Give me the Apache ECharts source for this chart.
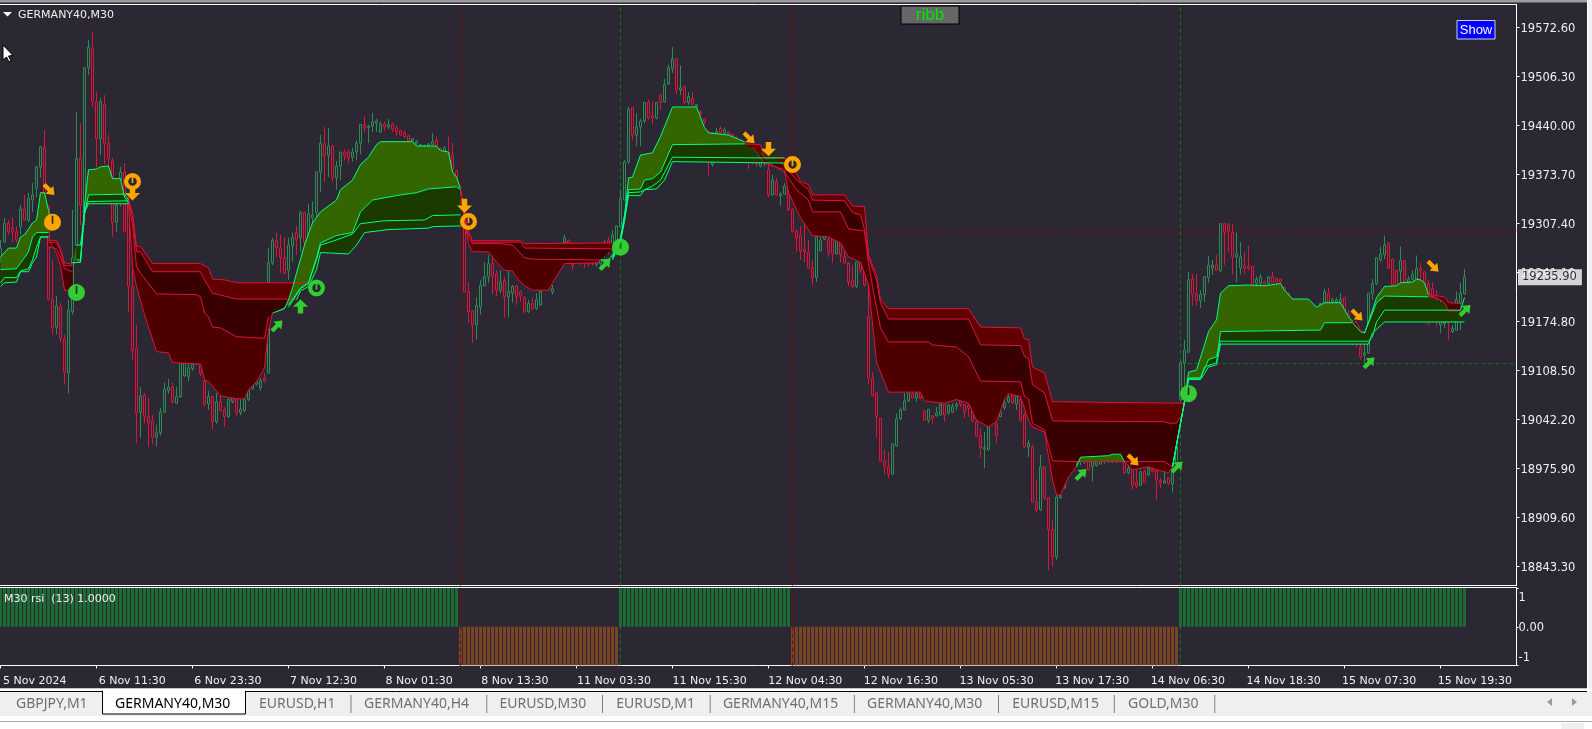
<!DOCTYPE html>
<html><head><meta charset="utf-8">
<style>html,body{margin:0;padding:0;background:#2b2733;overflow:hidden}#c{width:1592px;height:729px}</style>
<script src="https://cdn.jsdelivr.net/npm/echarts@6/dist/echarts.min.js"></script>
</head><body><div id="c"></div>
<script>
const timeLabels=['5 Nov 2024','6 Nov 11:30','6 Nov 23:30','7 Nov 12:30','8 Nov 01:30','8 Nov 13:30','11 Nov 03:30','11 Nov 15:30','12 Nov 04:30','12 Nov 16:30','13 Nov 05:30','13 Nov 17:30','14 Nov 06:30','14 Nov 18:30','15 Nov 07:30','15 Nov 19:30'];
const priceTicks=[18843.30,18909.60,18975.90,19042.20,19108.50,19174.80,19241.10,19307.40,19373.70,19440.00,19506.30,19572.60];
const lastPrice=19235.90;
const tabNames=['GBPJPY,M1','GERMANY40,M30','EURUSD,H1','GERMANY40,H4','EURUSD,M30','EURUSD,M1','GERMANY40,M15','GERMANY40,M30','EURUSD,M15','GOLD,M30'];
// open, close, low, high for each 30 minute bar
const candles=[
[19261,19274,19255,19285],[19282,19307,19281,19315],[19308,19296,19292,19312],[19301,19296,19282,19315],[19296,19285,19281,19303],[19303,19327,19292,19332],[19327,19312,19311,19346],[19312,19341,19309,19349],[19339,19346,19323,19362],[19355,19384,19343,19385],
[19384,19411,19369,19412],[19410,19349,19343,19433],[19331,19205,19203,19332],[19204,19166,19157,19259],[19167,19196,19157,19209],[19194,19152,19147,19200],[19151,19106,19089,19157],[19105,19190,19077,19204],[19188,19261,19184,19326],[19278,19395,19272,19458],
[19396,19332,19305,19443],[19322,19518,19305,19519],[19518,19546,19508,19556],[19544,19472,19465,19567],[19472,19422,19383,19485],[19422,19472,19400,19477],[19468,19416,19387,19481],[19416,19395,19380,19427],[19392,19308,19289,19396],[19309,19332,19296,19366],
[19366,19377,19330,19384],[19377,19297,19295,19389],[19335,19222,19188,19343],[19222,19135,19123,19244],[19138,19051,19010,19170],[19052,19074,19017,19086],[19075,19046,19037,19078],[19046,19037,19005,19071],[19040,19018,19008,19048],[19018,19024,19005,19035],
[19024,19052,19020,19058],[19052,19083,19051,19092],[19081,19086,19077,19097],[19086,19066,19064,19092],[19064,19073,19063,19086],[19073,19119,19071,19120],[19101,19119,19100,19120],[19100,19112,19094,19119],[19111,19117,19108,19119],[19117,19118,19116,19120],
[19117,19104,19101,19119],[19094,19063,19059,19096],[19063,19073,19055,19081],[19073,19039,19029,19074],[19039,19066,19036,19078],[19066,19054,19053,19078],[19055,19046,19032,19059],[19046,19069,19044,19070],[19066,19073,19064,19074],[19069,19051,19047,19070],
[19051,19056,19048,19069],[19054,19069,19052,19070],[19069,19082,19067,19083],[19084,19088,19082,19090],[19090,19094,19088,19098],[19085,19094,19081,19098],[19098,19094,19092,19105],[19105,19254,19104,19274],[19254,19284,19251,19288],[19284,19274,19262,19295],
[19274,19261,19240,19292],[19261,19240,19239,19288],[19244,19278,19231,19288],[19277,19288,19255,19295],[19295,19285,19265,19304],[19288,19322,19269,19324],[19322,19282,19261,19323],[19282,19320,19281,19334],[19315,19319,19299,19337],[19322,19377,19312,19378],
[19377,19416,19350,19427],[19415,19399,19364,19438],[19400,19412,19370,19437],[19412,19369,19364,19413],[19369,19385,19353,19392],[19385,19404,19366,19404],[19404,19399,19393,19408],[19404,19396,19389,19407],[19397,19404,19391,19410],[19404,19416,19393,19420],
[19416,19441,19401,19442],[19441,19437,19430,19452],[19437,19439,19416,19441],[19439,19445,19431,19457],[19443,19446,19431,19449],[19431,19442,19430,19445],[19442,19438,19433,19445],[19438,19441,19435,19449],[19441,19435,19431,19444],[19437,19431,19426,19440],
[19433,19427,19426,19434],[19430,19425,19423,19433],[19426,19419,19418,19427],[19419,19422,19418,19423],[19415,19418,19414,19420],[19412,19414,19411,19415],[19411,19413,19410,19414],[19412,19415,19411,19416],[19414,19418,19414,19430],[19420,19412,19410,19425],
[19409,19406,19404,19410],[19405,19410,19404,19412],[19404,19393,19387,19425],[19400,19380,19373,19416],[19378,19369,19366,19380],[19350,19339,19332,19355],[19319,19215,19214,19332],[19215,19188,19173,19228],[19189,19170,19146,19190],[19170,19196,19150,19207],
[19194,19224,19184,19231],[19223,19235,19222,19255],[19235,19253,19227,19265],[19253,19236,19211,19261],[19239,19217,19209,19244],[19217,19228,19213,19244],[19230,19208,19180,19235],[19208,19215,19180,19244],[19213,19222,19200,19224],[19223,19208,19197,19224],
[19215,19209,19201,19217],[19207,19188,19186,19209],[19188,19199,19186,19204],[19199,19192,19190,19207],[19192,19204,19190,19213],[19197,19216,19196,19217],[19218,19222,19217,19224],[19219,19222,19217,19224],[19215,19219,19211,19224],[19238,19242,19235,19244],
[19246,19250,19244,19255],[19281,19288,19278,19292],[19284,19280,19278,19286],[19256,19250,19244,19258],[19258,19262,19255,19265],[19258,19255,19251,19261],[19258,19255,19247,19261],[19258,19254,19249,19261],[19256,19253,19250,19258],[19252,19255,19249,19258],
[19253,19258,19250,19262],[19276,19281,19262,19285],[19285,19277,19265,19289],[19272,19292,19269,19299],[19272,19304,19269,19305],[19303,19341,19301,19353],[19339,19391,19338,19393],[19391,19462,19388,19465],[19464,19427,19420,19465],[19427,19438,19412,19456],
[19438,19446,19412,19449],[19446,19471,19443,19472],[19471,19450,19448,19475],[19453,19450,19441,19472],[19450,19471,19448,19472],[19481,19471,19461,19483],[19472,19495,19471,19503],[19496,19518,19495,19522],[19517,19530,19511,19546],[19530,19488,19483,19531],
[19488,19491,19481,19521],[19493,19471,19468,19494],[19471,19479,19468,19485],[19477,19468,19467,19485],[19466,19468,19465,19469],[19458,19456,19454,19460],[19449,19445,19441,19450],[19430,19422,19372,19434],[19387,19393,19384,19431],[19429,19432,19428,19437],
[19436,19430,19428,19439],[19430,19434,19428,19437],[19431,19428,19426,19432],[19428,19425,19423,19429],[19424,19421,19419,19425],[19420,19418,19416,19421],[19417,19415,19413,19418],[19400,19390,19381,19410],[19395,19391,19388,19405],[19395,19388,19384,19400],
[19385,19392,19383,19400],[19390,19392,19385,19396],[19380,19346,19343,19387],[19346,19366,19345,19373],[19364,19346,19345,19369],[19345,19347,19331,19350],[19347,19358,19346,19362],[19357,19326,19324,19360],[19326,19297,19295,19328],[19297,19288,19269,19299],
[19291,19270,19258,19303],[19272,19269,19255,19309],[19268,19247,19246,19285],[19247,19234,19224,19258],[19234,19289,19228,19291],[19270,19284,19270,19289],[19286,19291,19285,19296],[19285,19268,19262,19291],[19287,19266,19254,19288],[19266,19286,19265,19288],
[19281,19265,19254,19281],[19263,19254,19253,19272],[19254,19228,19222,19255],[19231,19222,19219,19251],[19222,19255,19220,19255],[19255,19244,19240,19255],[19247,19224,19222,19249],[19181,19098,19089,19272],[19098,19075,19073,19106],[19078,19046,19018,19078],
[19044,18986,18985,19044],[18986,18978,18968,19001],[18978,18968,18962,18998],[18968,19009,18967,19009],[19006,19043,19005,19050],[19043,19055,19041,19058],[19055,19067,19054,19078],[19067,19078,19066,19078],[19076,19071,19071,19079],[19071,19078,19066,19079],
[19078,19071,19070,19079],[19054,19041,19040,19054],[19041,19056,19037,19056],[19047,19044,19035,19048],[19047,19051,19046,19059],[19048,19063,19047,19063],[19062,19048,19039,19062],[19051,19062,19048,19063],[19052,19060,19051,19064],[19060,19062,19055,19066],
[19068,19062,19059,19069],[19062,19052,19044,19062],[19061,19057,19046,19062],[19055,19040,19039,19055],[19039,19020,19018,19040],[19020,19004,18990,19031],[19002,19004,18976,19025],[19001,19032,19000,19033],[19040,19045,19038,19048],[19035,19020,19010,19039],
[19046,19052,19045,19056],[19058,19064,19055,19069],[19066,19072,19064,19075],[19075,19064,19063,19075],[19063,19074,19055,19075],[19069,19041,19039,19070],[19048,19005,19004,19052],[19005,19010,18991,19014],[19005,18930,18929,19008],[18930,18920,18916,18960],
[18920,18978,18918,18994],[18978,18936,18933,18978],[18936,18893,18838,18936],[18893,18856,18843,18906],[18856,18937,18852,18940],[18936,18939,18935,18940],[18950,18955,18948,18965],[18975,18985,18965,18995],[18985,18990,18972,19000],[18985,18992,18979,18998],
[18985,18990,18980,18995],[18987,18992,18982,18996],[18985,18974,18973,18987],[18978,18985,18958,18986],[18980,18985,18978,18987],[18982,18985,18981,18987],[18985,18988,18982,18990],[18986,18988,18983,18990],[18987,18985,18983,18990],[18985,18988,18983,18990],
[18986,18989,18984,18991],[18985,18970,18968,18986],[18970,18976,18968,18982],[18974,18953,18947,18975],[18957,18952,18949,18974],[18953,18971,18952,18973],[18972,18957,18957,18974],[18967,18976,18966,18978],[18975,18972,18970,18980],[18973,18960,18933,18974],
[18959,18956,18949,18963],[18956,18959,18956,18973],[18963,18955,18953,18963],[18955,18974,18943,18974],[18983,19005,18974,19014],[19069,19119,19067,19121],[19119,19136,19069,19150],[19133,19231,19132,19242],[19232,19211,19196,19239],[19212,19203,19197,19239],
[19203,19211,19193,19217],[19211,19235,19201,19236],[19234,19251,19227,19263],[19247,19251,19238,19258],[19251,19244,19243,19265],[19243,19307,19242,19307],[19307,19295,19251,19308],[19305,19296,19269,19308],[19295,19262,19238,19307],[19262,19266,19228,19295],
[19247,19262,19238,19282],[19250,19247,19238,19269],[19249,19246,19244,19277],[19249,19224,19223,19249],[19226,19232,19224,19236],[19226,19235,19224,19239],[19228,19225,19223,19230],[19226,19235,19224,19236],[19235,19227,19226,19242],[19233,19228,19226,19234],
[19232,19228,19224,19232],[19221,19217,19216,19222],[19212,19208,19206,19214],[19205,19202,19200,19207],[19200,19204,19198,19206],[19203,19200,19198,19205],[19200,19203,19197,19205],[19202,19199,19196,19204],[19197,19193,19191,19199],[19193,19190,19188,19195],
[19195,19199,19194,19200],[19200,19215,19198,19219],[19213,19201,19200,19220],[19201,19204,19200,19207],[19201,19204,19200,19207],[19201,19205,19200,19213],[19207,19186,19185,19207],[19185,19180,19177,19190],[19170,19165,19142,19177],[19168,19160,19140,19175],
[19140,19127,19123,19157],[19129,19132,19119,19150],[19132,19213,19131,19213],[19213,19226,19204,19232],[19226,19261,19224,19261],[19258,19266,19255,19276],[19265,19278,19259,19291],[19281,19247,19246,19281],[19259,19224,19223,19259],[19244,19223,19222,19244],
[19243,19257,19227,19276],[19257,19228,19227,19257],[19228,19232,19227,19236],[19232,19238,19230,19244],[19232,19246,19231,19264],[19247,19243,19231,19254],[19242,19227,19226,19242],[19226,19180,19170,19231],[19219,19207,19204,19228],[19210,19180,19167,19217],
[19170,19195,19159,19204],[19172,19190,19166,19200],[19185,19175,19150,19190],[19161,19165,19159,19170],[19163,19204,19163,19215],[19200,19213,19163,19227],[19212,19235,19211,19246]
];
// ribbon lines as [bar, price] vertices; A is the fastest line, D the slowest
const g1A=[[0,19262],[2,19274],[4,19274],[5,19289],[6,19292],[8,19308],[9,19312],[10,19349],[11,19349],[12,19325],[13,19298]];
const g1B=[[0,19245],[4,19246],[5,19254],[6,19261],[7,19269],[8,19289],[9,19295],[12,19295]];
const g1C=[[0,19227],[1,19234],[4,19234],[5,19243],[7,19246],[8,19258],[9,19275],[10,19289],[12,19289]];
const g1D=[[0,19222],[1,19227],[4,19228],[5,19242],[7,19242],[8,19254],[9,19262],[10,19289],[12,19289]];
const r1A=[[12,19285],[13,19277],[14,19267],[15,19250],[16,19217],[18,19217]];
const r1B=[[12,19276],[14,19273],[15,19262],[16,19246],[18,19242]];
const r1C=[[12,19282],[14,19281],[15,19270],[16,19250],[18,19250]];
const r1D=[[12,19285],[14,19284],[15,19274],[16,19254],[18,19252]];
const g2A=[[18,19254],[20,19255],[21,19332],[22,19380],[24,19381],[25,19384],[27,19385],[28,19368],[30,19368],[31,19343],[32,19335]];
const g2B=[[19,19278],[20,19278],[21,19320],[22,19346],[31,19347],[32,19339]];
const g2C=[[19,19258],[20,19258],[21,19326],[22,19337],[32,19338]];
const g2D=[[18,19254],[20,19255],[21,19322],[22,19334],[32,19334]];
const r2A=[[32,19335],[33,19249],[34,19222],[36,19184],[39,19134],[42,19132],[43,19119],[50,19117],[51,19096],[52,19093],[55,19074],[59,19070],[61,19070],[62,19082],[64,19093],[66,19112],[67,19163],[68,19186]];
const r2B=[[32,19335],[33,19305],[34,19249],[35,19240],[39,19212],[49,19211],[50,19208],[51,19186],[52,19181],[53,19167],[55,19166],[59,19154],[66,19152],[67,19181]];
const r2C=[[32,19339],[33,19316],[34,19269],[35,19269],[38,19242],[50,19242],[51,19231],[53,19213],[56,19209],[59,19205],[74,19205]];
const r2D=[[32,19339],[33,19322],[34,19276],[35,19276],[38,19253],[50,19253],[52,19247],[53,19232],[56,19231],[59,19227],[77,19227]];
const g3A=[[68,19186],[71,19192],[72,19204],[73,19220],[74,19240],[76,19278],[78,19308],[80,19323],[84,19339],[85,19353],[88,19366],[90,19387],[92,19397],[94,19414],[95,19418],[103,19418],[104,19412],[109,19412],[110,19406],[112,19404],[113,19377],[114,19370],[115,19355]];
const g3B=[[72,19197],[75,19220],[77,19227],[79,19261],[80,19281],[84,19291],[88,19295],[90,19323],[93,19339],[100,19346],[104,19349],[107,19354],[114,19357],[115,19353]];
const g3C=[[72,19194],[75,19219],[77,19226],[79,19258],[80,19278],[84,19285],[88,19293],[90,19307],[96,19311],[106,19312],[108,19318],[115,19319]];
const g3D=[[74,19204],[75,19216],[77,19222],[79,19245],[80,19268],[87,19266],[89,19278],[91,19295],[97,19299],[107,19301],[108,19303],[115,19304]];
const r3A=[[115,19353],[116,19312],[117,19280],[118,19269],[122,19269],[124,19255],[126,19244],[128,19243],[129,19234],[131,19223],[133,19217],[137,19217],[138,19227],[141,19253],[149,19254],[150,19258]];
const r3B=[[115,19353],[116,19316],[117,19288],[118,19280],[125,19280],[128,19278],[131,19261],[133,19259],[150,19258]];
const r3C=[[115,19353],[116,19318],[117,19294],[118,19282],[130,19282],[131,19274],[153,19273]];
const r3D=[[115,19353],[116,19319],[117,19296],[118,19284],[130,19284],[131,19280],[153,19281]];
const g4A=[[150,19258],[152,19258],[153,19265],[154,19277],[155,19288],[156,19316],[157,19369],[158,19370],[160,19400],[163,19403],[165,19425],[168,19465],[174,19465],[176,19437],[177,19430],[182,19427],[186,19418]];
const g4B=[[153,19262],[155,19286],[156,19319],[157,19353],[160,19354],[161,19366],[163,19368],[165,19377],[168,19414],[186,19415]];
const g4C=[[153,19260],[155,19284],[156,19314],[157,19349],[160,19350],[163,19358],[165,19366],[168,19397],[191,19396],[196,19396]];
const g4D=[[153,19258],[155,19282],[156,19310],[157,19345],[160,19345],[161,19353],[164,19354],[166,19366],[168,19391],[197,19389]];
const r4A=[[188,19411],[191,19389],[196,19380],[197,19349],[200,19315],[203,19291],[207,19289],[210,19281],[212,19262],[215,19255],[217,19224],[219,19120],[222,19079],[230,19079],[231,19067],[236,19064],[239,19069],[242,19064],[244,19041],[247,19032],[249,19039],[251,19069],[252,19077],[255,19073],[257,19041],[258,19032],[261,19025],[263,18960],[264,18940],[265,18940],[267,18964],[269,18978]];
const r4B=[[192,19389],[196,19377],[199,19353],[202,19339],[203,19323],[210,19323],[212,19300],[216,19297],[217,19254],[218,19222],[220,19166],[222,19147],[232,19147],[233,19143],[239,19140],[242,19127],[245,19094],[255,19093],[256,19073],[257,19070],[258,19037],[261,19028],[263,18986],[269,18985],[281,18985],[291,18985],[293,18978]];
const r4C=[[195,19391],[199,19366],[202,19353],[203,19339],[211,19338],[213,19322],[215,19319],[216,19299],[217,19261],[219,19231],[220,19200],[222,19178],[242,19178],[245,19143],[255,19142],[256,19127],[257,19125],[258,19089],[261,19078],[263,19040],[291,19039],[292,19037],[294,19037],[295,19046]];
const r4D=[[186,19415],[190,19414],[191,19397],[196,19396],[197,19384],[199,19376],[200,19364],[202,19360],[203,19346],[211,19346],[213,19331],[216,19330],[217,19265],[219,19238],[220,19204],[222,19192],[242,19192],[245,19167],[255,19166],[256,19151],[257,19150],[258,19113],[261,19105],[263,19066],[296,19064]];
const g5A=[[269,18978],[270,18991],[277,18993],[278,18995],[280,18995],[281,18985]];
const r5A=[[281,18985],[283,18974],[287,18978],[289,18974],[292,18970],[293,18978]];
const g6A=[[293,18978],[295,19037],[296,19066],[297,19106],[299,19109],[301,19143],[302,19161],[304,19177],[305,19213],[307,19223],[312,19224],[316,19223],[320,19226],[321,19217],[323,19205],[327,19205],[329,19194],[331,19200],[335,19200],[337,19181],[338,19175]];
const g6B=[[293,18978],[295,19037],[296,19066],[297,19098],[300,19098],[301,19113],[304,19119],[305,19161],[317,19162],[330,19163],[331,19173],[338,19173],[340,19161],[341,19159],[343,19186],[344,19200],[346,19209],[357,19208]];
const g6C=[[293,18978],[295,19037],[296,19066],[297,19098],[300,19098],[302,19123],[304,19127],[305,19148],[342,19148],[343,19154],[344,19174],[346,19190],[365,19190]];
const g6D=[[293,18978],[295,19037],[296,19066],[297,19096],[300,19096],[302,19113],[304,19116],[305,19144],[342,19144],[343,19159],[346,19174],[366,19174]];
const r6A=[[338,19175],[339,19173],[340,19163],[341,19159]];
const g7A=[[341,19159],[342,19174],[344,19207],[346,19222],[349,19223],[350,19227],[353,19228],[354,19232],[355,19231],[356,19227],[357,19211]];
const r7Top=[[357,19211],[358,19210],[361,19208],[362,19200],[365,19199]];
const r7Low=[[357,19210],[359,19207],[361,19200],[362,19189],[365,19189]];
const g8A=[[365,19190],[366,19207]];
// rsi state runs: first bar, last bar, state
const rsiRuns=[[0,114,1],[115,154,-1],[155,197,1],[198,294,-1],[295,366,1]];
const rsiTicks=[-1,0,1];
// the indicator's outer labels sit inside its pane, slightly off their ticks
const rsiLabelSpots=[-0.78,0,0.77];
// signal marks as [bar, price]
const orangeDiag=[[12,19354],[187,19424],[283,18988],[339,19184],[358,19250]];
const orangeDown=[[33,19348],[116,19331],[192,19408]];
const orangeFull=[[13,19309]];
const orangeRing=[[33,19364],[117,19310],[198,19387]];
const greenFull=[[19,19214],[155,19275],[297,19077]];
const greenRing=[[79,19220]];
const greenUp=[[75,19195]];
const greenDiag=[[69,19168],[151,19251],[270,18967],[294,18977],[342,19118],[366,19189]];
const vLinesRed=[115,198];
const vLinesGreen=[155,295];
const hLineRed=[198,19298];
const hLineGreen=[295,19118];

const BG='#2b2733',UP='#00ff7f',DN='#dc143c';
const G1='#336600',G2='#1a3a00',R1='#4e0000',R2='#380000',R3='#600000';
const sl=(a,f,t)=>a.filter(p=>p[0]>=f&&p[0]<=t);
const fills=[
 {a:g1A,b:g1B,c:G1},{a:g1B,b:g1C,c:G2},{a:g1C,b:g1D,c:G2},
 {a:r1D,b:r1C,c:R3},{a:r1C,b:r1B,c:R2},{a:r1B,b:r1A,c:R1},
 {a:r2D,b:r2C,c:R3},{a:r2C,b:r2B,c:R2},{a:r2B,b:r2A,c:R1},
 {a:g2A,b:g2B,c:G1},{a:g2B,b:g2C,c:G2},{a:g2C,b:g2D,c:G2},
 {a:g3A,b:g3B,c:G1},{a:g3B,b:g3C,c:G2},{a:g3C,b:g3D,c:G2},
 {a:r3D,b:r3C,c:R3},{a:r3C,b:r3B,c:R2},{a:r3B,b:r3A,c:R1},
 {a:g4A,b:g4B,c:G1},{a:g4B,b:g4C,c:G2},{a:g4C,b:g4D,c:G2},
 {a:r4D,b:r4C,c:R3},{a:r4C,b:r4B,c:R2},{a:sl(r4B,192,269),b:r4A,c:R1},
 {a:g5A,b:sl(r4B,269,281),c:G1},{a:sl(r4B,281,293),b:r5A,c:R1},
 {a:g6A,b:sl(g6B,293,338),c:G1},{a:g6B,b:g6C,c:G2},{a:g6C,b:g6D,c:G2},
 {a:sl(g6B,338,341),b:r6A,c:R1},{a:g7A,b:sl(g6B,341,357),c:G1},
 {a:r7Top,b:r7Low,c:R1}
];
const upLines=[g1A,g1B,g1C,g1D,g2A,g2B,g2C,g2D,g3A,g3B,g3C,g3D,g4A,g4B,g4C,g4D,g5A,g6A,g6B,g6C,g6D,g7A,g8A];
const dnLines=[r1A,r1B,r1C,r1D,r2A,r2B,r2C,r2D,r3A,r3B,r3C,r3D,r4A,r4B,r4C,r4D,r5A,r6A,r7Top,r7Low];

const BARS=380;
const categories=Array.from({length:BARS},(_,k)=>k%24===0&&timeLabels[k/24]?timeLabels[k/24]:String(k));
const rsiValues=[];
rsiRuns.forEach(r=>{for(let k=r[0];k<=r[1];k++)rsiValues.push([k,r[2]]);});

const FONT='"DejaVu Sans"';
const P={
 diagDn:'path://M2 7 L7 2 L16 11 L20 7 L22 22 L7 20 L11 16 Z',
 diagUp:'path://M2 17 L7 22 L16 13 L20 17 L22 2 L7 4 L11 8 Z',
 down:'path://M8 2 H16 V12 H23 L12 23 L1 12 H8 Z',
 up:'path://M8 22 H16 V12 H23 L12 1 L1 12 H8 Z',
 full:'path://M12 0 A12 12 0 1 1 11.99 0 Z M10.8 3 V14 H13.2 V3 Z',
 ring:'path://M12 0 A12 12 0 1 1 11.99 0 Z M12 6 A6 6 0 1 0 12.01 6 Z M10.8 3 H13.2 V14 H10.8 Z'
};
const marks=(d,sym,size,col)=>({type:'scatter',data:d,symbol:sym,symbolSize:size,symbolKeepAspect:true,itemStyle:{color:col,opacity:1},silent:true,z:8,xAxisIndex:0,yAxisIndex:0,clip:false});
const ORANGE='#ffa500',GREEN='#32cd32';
const lineSeries=(d,col)=>({type:'line',data:d,xAxisIndex:0,yAxisIndex:0,symbol:'none',silent:true,z:5,animation:false,lineStyle:{color:col,width:1,cap:'butt',join:'miter'}});
const dash=(col)=>({color:col,type:[4,3],width:1});

const tabX=[16,115,259,364,499.5,616.3,722.9,867,1012.2,1128];
const seps=[350.5,486.3,602,709.7,853.9,998,1113.8,1214.3];
const graphicEls=[
 {type:'rect',shape:{x:0,y:0,width:1592,height:2.5},style:{fill:'#9c9c9c'},z:50},
 {type:'line',shape:{x1:0,y1:4.5,x2:1517,y2:4.5},style:{stroke:'#fff',lineWidth:1},z:50},
 {type:'line',shape:{x1:0,y1:587.5,x2:1517,y2:587.5},style:{stroke:'#fff',lineWidth:1},z:50},
 {type:'rect',shape:{x:1587,y:0,width:5,height:729},style:{fill:'#f0f0f0'},z:50},
 {type:'line',shape:{x1:1587.5,y1:0,x2:1587.5,y2:690},style:{stroke:'#fff',lineWidth:1},z:51},
 {type:'rect',shape:{x:0,y:688.5,width:1592,height:40.5},style:{fill:'#efefef'},z:50},
 {type:'rect',shape:{x:0,y:688.5,width:1592,height:3},style:{fill:'#ffffff'},z:51},
 {type:'line',shape:{x1:0,y1:691.5,x2:1587,y2:691.5},style:{stroke:'#000',lineWidth:1},z:52},
 {type:'rect',shape:{x:0,y:716,width:1592,height:13},style:{fill:'#ffffff'},z:51},
 {type:'rect',shape:{x:0,y:721,width:1592,height:1},style:{fill:'#a8a8a8'},z:52},
 {type:'rect',shape:{x:1561,y:723,width:23,height:6},style:{fill:'#f0f0f0'},z:52},
 {type:'rect',shape:{x:102.5,y:691,width:143,height:23},style:{fill:'#fff',stroke:'#000',lineWidth:1},z:53},
 {type:'rect',shape:{x:103,y:689,width:142,height:4},style:{fill:'#fff'},z:54},
 {type:'polygon',shape:{points:[[1552,698],[1552,706],[1547,702]]},style:{fill:'#9a9a9a'},z:55},
 {type:'polygon',shape:{points:[[1572,698],[1572,706],[1577,702]]},style:{fill:'#9a9a9a'},z:55},
 {type:'polygon',shape:{points:[[3,12],[12,12],[7.5,16.5]]},style:{fill:'#fff'},z:55},
 {type:'text',x:18,y:15,style:{text:'GERMANY40,M30',fill:'#f0f0f0',font:'11px '+FONT,textVerticalAlign:'middle'},z:55},
 {type:'text',x:4,y:599,style:{text:'M30 rsi  (13) 1.0000',fill:'#f0f0f0',font:'11px '+FONT,textVerticalAlign:'middle'},z:55},
 {type:'polygon',shape:{points:[[3,45],[3,60],[6.5,57],[9,62],[11,61],[8.5,56],[13,55.5]]},style:{fill:'#fff',stroke:'#000',lineWidth:1},z:55},
 {type:'rect',shape:{x:901,y:6,width:58,height:18},style:{fill:'#666666',stroke:'#000',lineWidth:1},z:55},
 {type:'text',x:930,y:15,style:{text:'ribb',fill:'#00e600',font:'17px "Liberation Sans"',textAlign:'center',textVerticalAlign:'middle'},z:56},
 {type:'rect',shape:{x:1457,y:20.5,width:38,height:18.5},style:{fill:'#0000ff',stroke:'#d0d0d0',lineWidth:1},z:55},
 {type:'text',x:1476,y:30,style:{text:'Show',fill:'#fff',font:'13px "Liberation Sans"',textAlign:'center',textVerticalAlign:'middle'},z:56}
];
tabNames.forEach((t,i)=>graphicEls.push({type:'text',x:tabX[i],y:704,style:{text:t,fill:i===1?'#000':'#6f6f6f',font:'14px "Noto Sans"',textVerticalAlign:'middle'},z:56}));
seps.forEach(x=>graphicEls.push({type:'rect',shape:{x:x,y:695,width:1,height:18},style:{fill:'#808080'},z:56}));

const series=[
 {type:'candlestick',data:candles,xAxisIndex:0,yAxisIndex:0,barWidth:3,silent:true,z:2,
  itemStyle:{color:BG,color0:BG,borderColor:'#2e8b57',borderColor0:DN,borderWidth:1},
  markLine:{silent:true,symbol:'none',z:1,animation:false,label:{show:false},data:[
   ...vLinesRed.map(k=>({xAxis:k,lineStyle:dash('#8b0000')})),
   ...vLinesGreen.map(k=>({xAxis:k,lineStyle:dash('#0a7a0a')})),
   [{coord:hLineRed,lineStyle:dash('#8b0000')},{coord:[379,hLineRed[1]]}],
   [{coord:hLineGreen,lineStyle:dash('#0a7a0a')},{coord:[379,hLineGreen[1]]}]
  ]}},
 {type:'custom',xAxisIndex:0,yAxisIndex:0,silent:true,z:3,clip:true,animation:false,
  data:fills.map((f,i)=>[i,lastPrice]),encode:{x:0,y:1},
  renderItem:(params,api)=>{const f=fills[params.dataIndex];
    const pts=f.a.concat(f.b.slice().reverse()).map(p=>api.coord(p));
    return {type:'polygon',shape:{points:pts},style:{fill:f.c}};}},
 ...dnLines.map(d=>lineSeries(d,DN)),
 ...upLines.map(d=>lineSeries(d,UP)),
 marks(orangeDiag,P.diagDn,12,ORANGE),marks(orangeDown,P.down,15,ORANGE),marks(orangeFull,P.full,17,ORANGE),marks(orangeRing,P.ring,17,ORANGE),
 marks(greenFull,P.full,17,GREEN),marks(greenRing,P.ring,17,GREEN),marks(greenUp,P.up,15,GREEN),marks(greenDiag,P.diagUp,12,GREEN),
 {type:'scatter',data:[[379,lastPrice]],xAxisIndex:0,yAxisIndex:0,symbolSize:0,silent:true,z:20,clip:false,
  label:{show:true,position:'right',distance:1.5,offset:[0,1],formatter:()=>lastPrice.toFixed(2),color:'#000',backgroundColor:'#fff',fontFamily:'DejaVu Sans',fontSize:11.5,padding:[3,5,1,4]}},
 {type:'custom',data:rsiValues,encode:{x:0,y:1},xAxisIndex:1,yAxisIndex:1,silent:true,z:2,clip:false,animation:false,
  renderItem:(params,api)=>{const v=api.value(1);const a=api.coord([api.value(0),v]);const b=api.coord([api.value(0),0]);
    return {type:'rect',shape:{x:Math.floor(a[0])-1,y:Math.min(a[1],b[1]),width:3,height:Math.abs(a[1]-b[1])},style:{fill:v>0?'#1e6b33':'#7a4524'}};}},
 {type:'line',data:[],xAxisIndex:1,yAxisIndex:1,silent:true,z:2,
  markLine:{silent:true,symbol:'none',z:5,animation:false,label:{show:false},data:[
   ...vLinesRed.map(k=>({xAxis:k,lineStyle:dash('#8b0000')})),
   ...vLinesGreen.map(k=>({xAxis:k,lineStyle:dash('#0a7a0a')}))]}}
];

const yLabel={fontFamily:'DejaVu Sans',fontSize:11.5,color:'#f0f0f0',padding:[3,0,0,0]};
const chart=echarts.init(document.getElementById('c'),null,{renderer:'canvas'});
chart.setOption({
 animation:false,backgroundColor:BG,
 grid:[{left:0.5,width:1516,top:5,height:580.5},{left:0.5,width:1516,top:588,height:77.5},{left:-2.5,width:1516,top:588,height:77.5}],
 xAxis:[
  {type:'category',gridIndex:0,data:categories,boundaryGap:false,axisLine:{onZero:false,lineStyle:{color:'#fff'}},axisTick:{show:false},axisLabel:{show:false},splitLine:{show:false}},
  {type:'category',gridIndex:1,data:categories,boundaryGap:false,axisLine:{onZero:false,lineStyle:{color:'#fff'}},
   axisTick:{show:true,length:3,interval:23,lineStyle:{color:'#fff'}},axisLabel:{show:false},splitLine:{show:false}},
  {type:'category',gridIndex:2,data:categories,boundaryGap:false,axisLine:{show:false},axisTick:{show:false},splitLine:{show:false},
   axisLabel:{show:true,interval:23,align:'left',color:'#f0f0f0',fontFamily:'DejaVu Sans',fontSize:11,margin:10,hideOverlap:false}}
 ],
 yAxis:[
  {type:'value',gridIndex:0,position:'right',min:18817.3,max:19603,splitLine:{show:false},axisLine:{show:true,lineStyle:{color:'#fff'}},
   axisTick:{show:true,length:3,customValues:priceTicks,lineStyle:{color:'#fff'}},
   axisLabel:{show:true,customValues:priceTicks,formatter:v=>'{t|'+(+v).toFixed(2)+'}',rich:{t:yLabel},margin:4}},
  {type:'value',gridIndex:1,position:'right',min:-1,max:1,splitLine:{show:false},axisLine:{show:true,lineStyle:{color:'#fff'}},
   axisTick:{show:true,length:2,customValues:rsiTicks,lineStyle:{color:'#fff'}},
   axisLabel:{show:true,customValues:rsiLabelSpots,formatter:v=>'{t|'+(+v===0?'0.00':(+v>0?'1':'-1'))+'}',rich:{t:yLabel},margin:2}},
  {type:'value',gridIndex:2,show:false,min:-1,max:1,splitLine:{show:false}}
 ],
 series:series,
 graphic:{elements:graphicEls}
});
</script></body></html>
